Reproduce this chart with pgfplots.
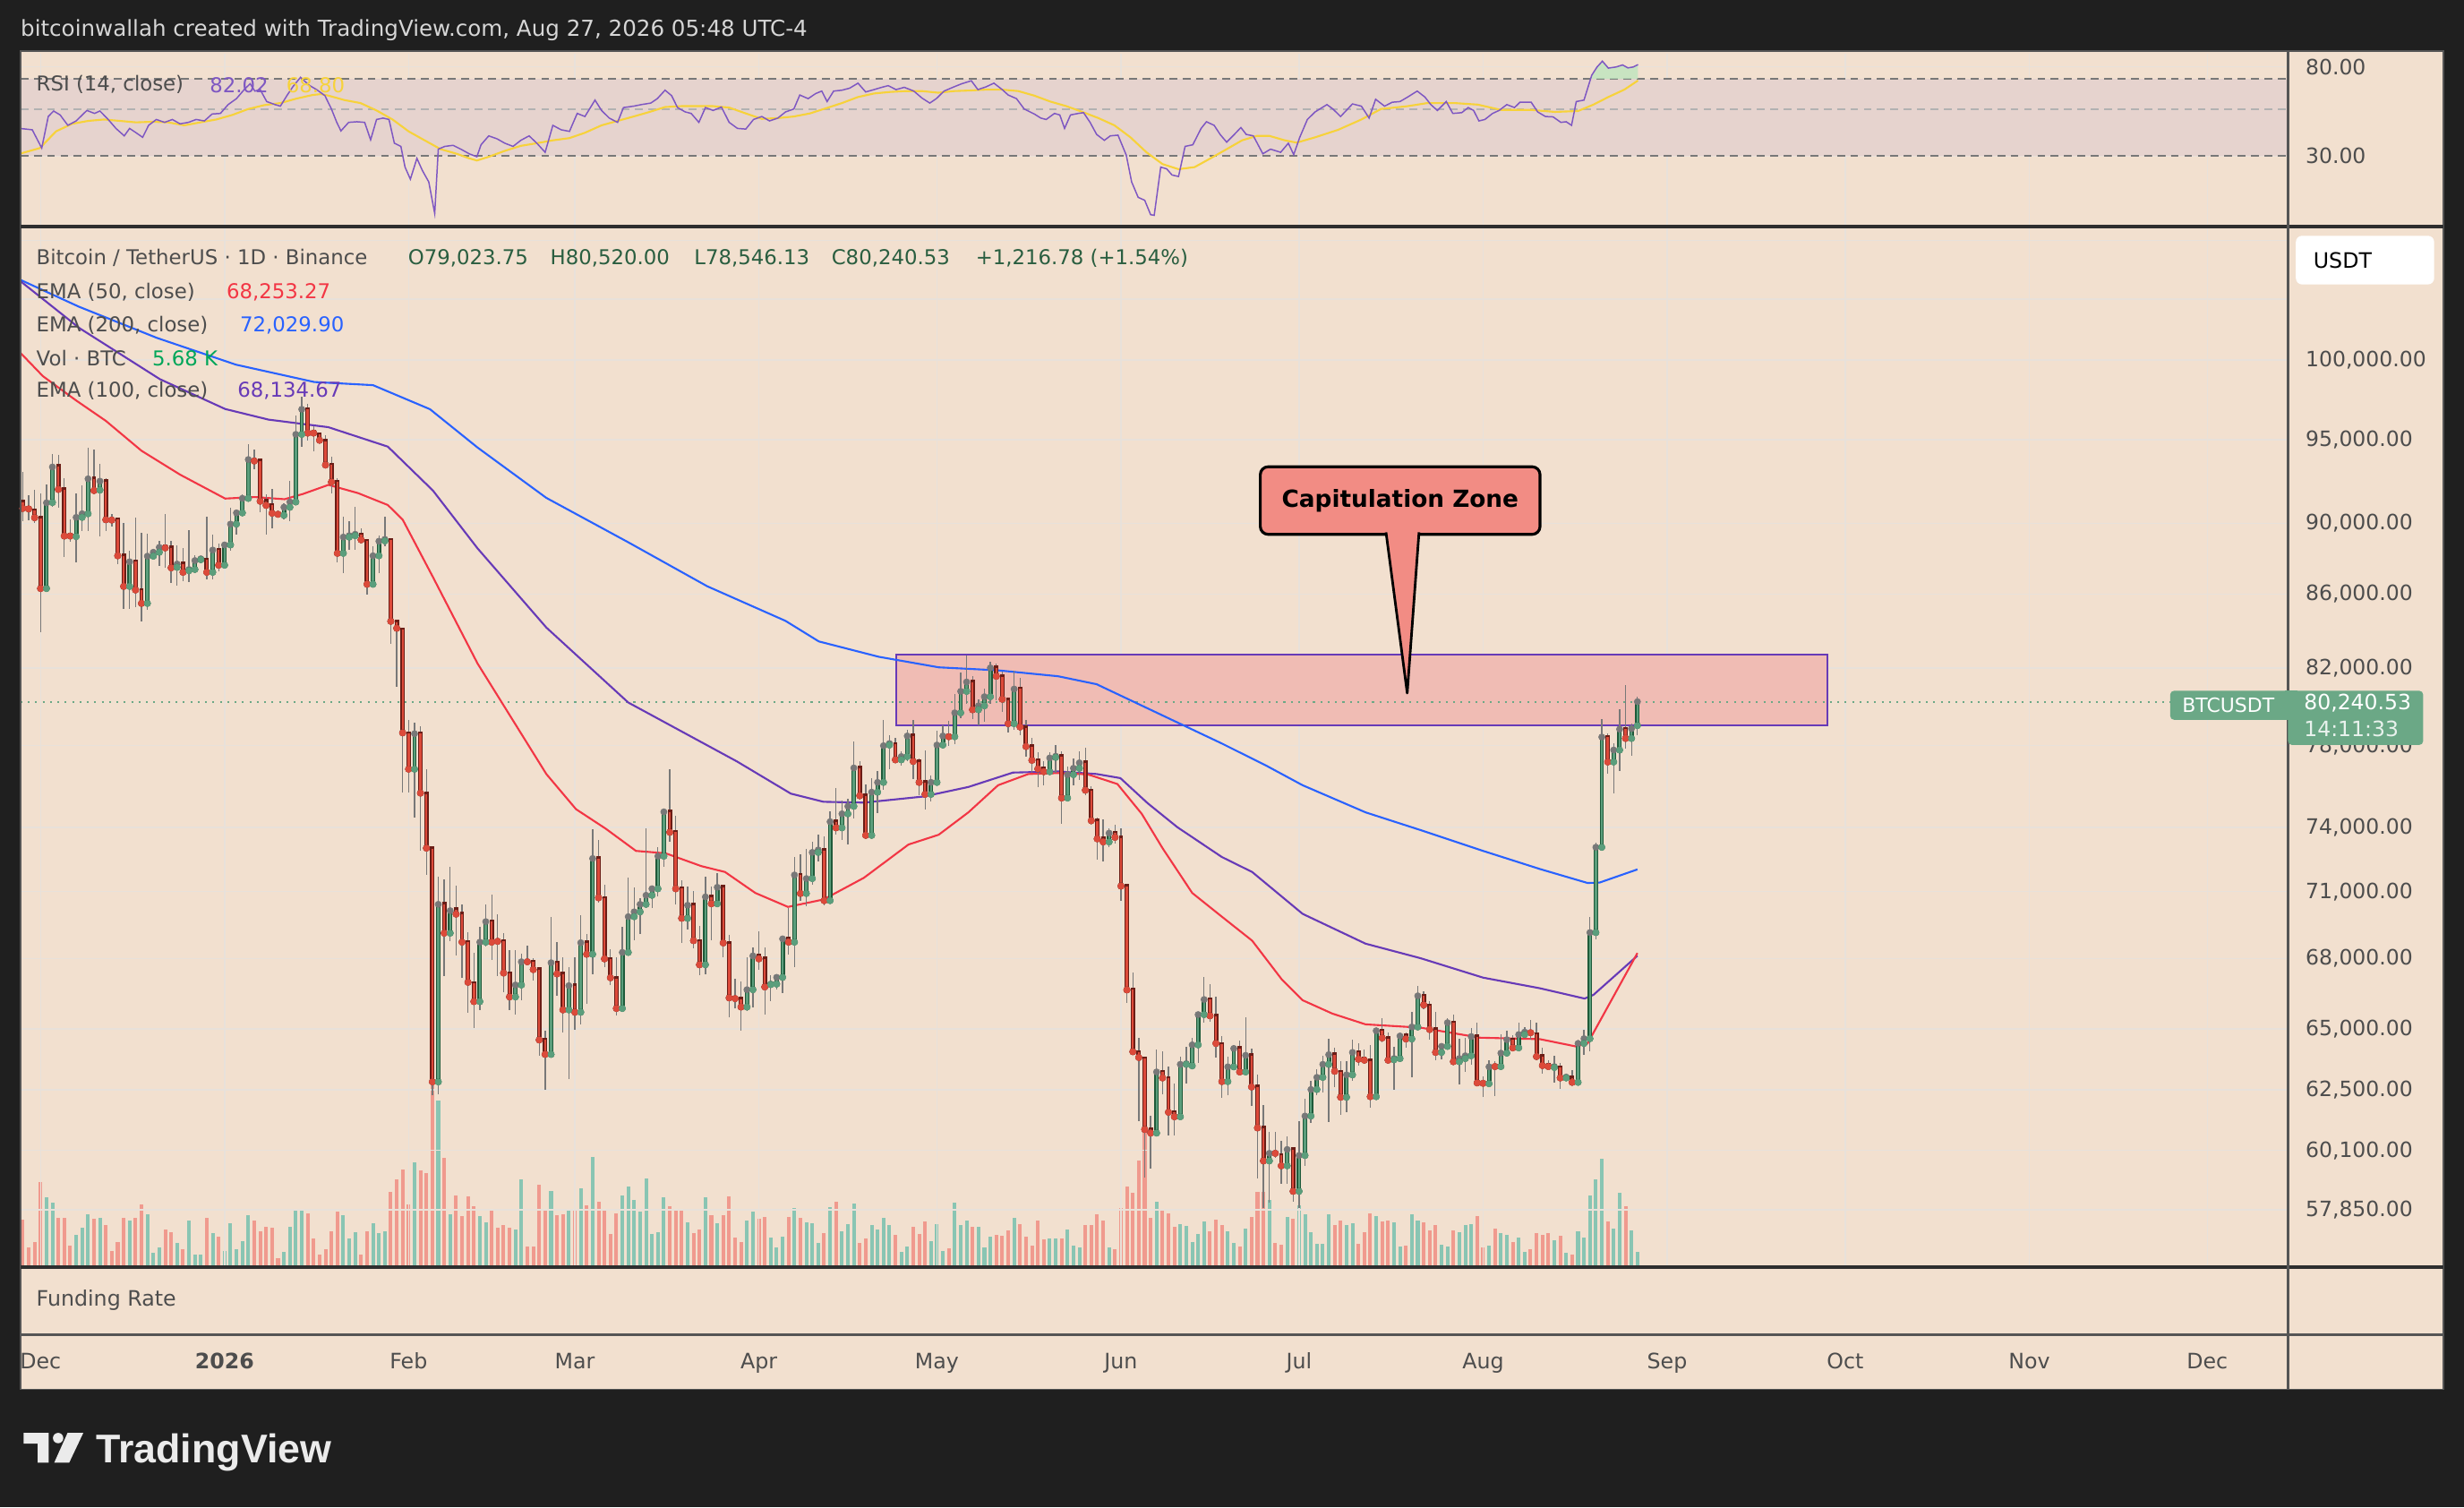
\documentclass[border=0pt]{standalone}
\usepackage{fontspec}
\setmainfont{DejaVu Sans}
\newfontfamily\libsans{Liberation Sans}
\usepackage{pgfplots}
\usepackage{pgfplotstable}
\pgfplotsset{compat=1.18}

\definecolor{bgdark}{HTML}{1F1F1F}
\definecolor{beige}{HTML}{F2E0CF}
\definecolor{gridc}{HTML}{E8E1DA}
\definecolor{lblc}{HTML}{4D4D4D}
\definecolor{sepdark}{HTML}{2E2E2E}
\definecolor{sepgray}{HTML}{555555}
\definecolor{wickc}{HTML}{787878}
\definecolor{upb}{HTML}{1F5A3A}
\definecolor{upf}{HTML}{5B9E7C}
\definecolor{dnb}{HTML}{6B1D16}
\definecolor{dnf}{HTML}{DC4A3A}
\definecolor{volr}{HTML}{F09A8E}
\definecolor{volg}{HTML}{89C5B3}
\definecolor{emared}{HTML}{F23645}
\definecolor{emablue}{HTML}{2962FF}
\definecolor{emapurple}{HTML}{673AB7}
\definecolor{rsipurple}{HTML}{7E57C2}
\definecolor{rsiyellow}{HTML}{F7D23A}
\definecolor{rsiband}{HTML}{E6D3CE}
\definecolor{capfill}{HTML}{F0BCB4}
\definecolor{tagg}{HTML}{6BA886}
\definecolor{callout}{HTML}{F28C84}
\definecolor{ohlcg}{HTML}{2A5E40}
\definecolor{headc}{HTML}{D6D6D6}

\pgfplotsset{
  isup/.style={restrict expr to domain={\thisrow{u}}{0.5:1.5}},
  isdn/.style={restrict expr to domain={\thisrow{u}}{-0.5:0.5}},
  tvbase/.style={scale only axis, width=1443pt, xmin=-3.39, xmax=378.6,
    axis line style={draw=none}, major tick length=0pt,
    xtick={0,31,62,90,121,151,182,212,243,274,304,335,365},
    xticklabel style={opacity=0, text opacity=0},
    grid style={draw=gridc, line width=0.9pt}, anchor=south west},
}

% EMA 200 (blue)
\pgfplotstableread{
d p
-3.4 105300
6.4 103500
19.6 101430
32.9 99700
46.1 98590
56 98390
65.6 96880
73.6 94520
85.2 91500
99 88920
112.3 86440
125.5 84530
131.1 83420
141.2 82600
151.3 82040
161.3 81880
171.4 81570
177.9 81150
188 79700
199 78120
206.6 77000
212.6 76040
223.2 74730
232.5 73880
243 72890
252.6 72050
260.6 71400
262.6 71420
269 72030
}\emaB
% EMA 100 (purple)
\pgfplotstableread{
d p
-3.5 105240
6.6 102060
20.1 98770
31.1 96890
38.4 96230
48.5 95760
58.5 94570
66.1 91930
73.6 88580
85.2 84170
99 80200
117.3 77220
126.4 75640
131.9 75240
138.7 75200
148.8 75500
156.3 75960
163.8 76670
171.4 76730
177.9 76600
181.9 76400
186.5 75170
191.5 74020
199 72610
204.1 71910
212.6 70000
223.2 68670
232.5 68020
243 67180
252.6 66720
260.1 66280
261.6 66440
269 68135
}\emaP
% EMA 50 (red)
\pgfplotstableread{
d p
-3.5 100500
0.4 98960
5.9 97450
11 96150
17 94320
23.5 92880
31.1 91460
36.1 91550
41.1 91420
44.2 91730
48.5 92270
53.5 91780
58.5 91080
61 90230
66.1 86950
73.6 82250
85.2 76600
90.2 74880
95.2 73950
100.3 72890
105.3 72780
111.3 72190
115.3 71910
120.4 70950
125.9 70310
131.9 70650
138.7 71640
146.2 73200
151.3 73660
156.3 74730
161.3 76040
166.4 76600
171.4 76650
176.4 76590
181.4 76110
185.5 74660
189 73030
194 70950
199 69870
204.1 68800
209.1 67100
212.6 66210
217.6 65640
223.2 65190
232.5 65050
242.5 64630
252.6 64570
258.6 64270
260.6 64390
269 68253
}\emaR

\pgfplotstableread{
d o h l c v u
-3 91260 93020 90140 90880 157 0
-2 90880 91650 90190 90850 64 0
-1 90740 91960 90050 90340 82 0
0 90310 91790 83900 86310 285 0
1 86310 92280 86180 91210 234 1
2 91230 94100 91000 93340 214 1
3 93380 94060 90920 92000 165 0
4 92000 92670 88090 89280 165 0
5 89330 90260 88940 89280 72 0
6 89250 91750 87790 90360 108 1
7 90360 92230 89540 90570 132 1
8 90570 94510 89540 92630 177 1
9 92630 94400 91900 91930 160 0
10 91960 93500 89280 92490 165 1
11 92460 92670 89540 90220 139 0
12 90220 90570 89800 90200 52 0
13 90220 90300 87680 88150 82 0
14 88150 90050 85200 86430 165 0
15 86430 88430 85200 87810 154 1
16 87810 90340 85280 86230 165 0
17 86210 89450 84520 85490 210 0
18 85490 89400 85120 88130 177 1
19 88130 88510 88090 88350 46 1
20 88350 88990 87590 88630 64 1
21 88690 90570 87500 88600 124 0
22 88600 89020 86620 87470 117 0
23 87500 88770 86470 87680 79 1
24 87680 88600 86700 87220 60 0
25 87310 89620 86680 87380 154 1
26 87380 88180 87260 87880 40 1
27 87930 88090 87860 87980 40 1
28 87930 90400 86840 87220 165 0
29 87220 89370 86840 88480 112 1
30 88480 88860 87260 87620 100 0
31 87620 88940 87590 88770 54 1
32 88770 90920 88430 89970 145 1
33 89970 90830 89370 90620 60 1
34 90620 91700 90570 91470 87 1
35 91470 94730 91440 93790 172 1
36 93790 94370 93200 93700 154 0
37 93700 93850 90660 91300 120 0
38 91300 91700 89370 91060 135 0
39 91060 92050 89710 90600 130 0
40 90600 90740 90400 90540 30 0
41 90480 91180 90220 90950 49 1
42 90950 92490 90140 91260 135 1
43 91260 96460 91230 95320 192 1
44 95320 97640 94550 96870 190 1
45 96870 97200 94950 95400 180 0
46 95450 95830 94260 95400 94 0
47 95310 95460 94820 94960 40 0
48 94900 95250 93400 93460 60 0
49 93460 93950 91780 92440 120 0
50 92440 92640 87790 88290 184 0
51 88290 90380 87170 89220 172 1
52 89220 90150 88480 89300 94 1
53 89300 90960 88480 89380 117 1
54 89350 89740 88980 89060 40 0
55 88980 89120 85950 86550 120 0
56 86550 88670 86370 88150 147 1
57 88150 89330 87170 88980 112 1
58 89000 90380 88670 89090 120 1
59 89040 89120 83300 84510 252 0
60 84460 84560 81010 84130 292 0
61 84050 84180 75700 78660 325 0
62 78610 79330 75700 76840 210 0
63 76840 79180 74500 78610 349 1
64 78610 79010 72910 75670 322 0
65 75620 76840 71790 73030 315 0
66 72990 73100 62290 62820 609 0
67 62820 71670 62300 70430 556 1
68 70430 71570 67230 69130 364 0
69 69130 72160 68770 70140 177 1
70 70180 71290 68160 69980 240 0
71 69980 70430 67170 68730 169 0
72 68730 69170 65680 66980 237 0
73 66940 68260 65050 66150 202 0
74 66150 69400 65800 68730 169 1
75 68730 70430 68540 69650 150 1
76 69650 70860 67950 68730 187 0
77 68800 70000 67230 68770 130 0
78 68770 69140 66560 67380 139 0
79 67360 68370 65800 66350 130 0
80 66350 68370 65580 66860 124 1
81 66860 68230 66190 67870 292 1
82 67900 68580 67800 67870 69 0
83 67850 68010 67070 67530 69 0
84 67530 67590 63880 64540 274 0
85 64540 64940 62480 63940 192 0
86 63940 69870 63830 67830 255 1
87 67830 68730 66400 67340 172 0
88 67330 68070 64830 65800 177 0
89 65800 67650 62930 66830 187 1
90 66830 68070 64980 65700 192 0
91 65700 69940 65170 68710 264 1
92 68710 69080 66060 68200 207 0
93 68200 73900 67310 72540 369 1
94 72540 73420 70500 70730 219 0
95 70700 71320 67650 68000 190 0
96 67980 68430 66850 67170 109 0
97 67140 68070 65560 65860 180 0
98 65860 69410 65740 68280 240 1
99 68280 71640 68270 69870 270 1
100 69870 71180 68830 70090 225 1
101 70090 70690 69100 70430 184 1
102 70430 73950 70300 70840 297 1
103 70840 71180 70250 71140 109 1
104 71140 73070 70800 72650 117 1
105 72650 74800 72170 74750 234 1
106 74750 76840 73310 73780 204 0
107 73780 74550 70430 71140 195 0
108 71140 71530 68710 69800 187 0
109 69800 71250 69300 70390 150 1
110 70390 71040 68460 68800 114 0
111 68770 69470 67270 67740 124 0
112 67740 71670 67330 70770 234 1
113 70770 71250 68830 70460 172 0
114 70460 71880 70320 71210 147 1
115 71210 71320 68050 68700 174 0
116 68670 69040 65490 66310 237 0
117 66310 67150 65860 66280 97 0
118 66250 67010 64930 65920 84 0
119 65920 68070 65740 66660 154 1
120 66660 68500 65920 68130 184 1
121 68130 69200 67500 68000 160 0
122 68000 68500 65620 66780 167 0
123 66880 67280 66170 66900 97 1
124 66900 67280 66680 67190 64 1
125 67190 69000 66530 68880 100 1
126 68880 70270 68170 68730 167 0
127 68730 72610 67650 71780 197 1
128 71780 72720 70600 70930 165 0
129 70930 73000 70340 71610 150 1
130 71610 73320 71330 72820 147 1
131 72820 73660 72400 72940 79 1
132 72920 73590 70400 70600 114 0
133 70600 74760 70460 74280 200 1
134 74280 75900 73660 73990 219 0
135 73990 75290 73420 74660 120 1
136 74660 75390 73200 75020 144 1
137 75020 78200 74410 76900 213 1
138 76900 77250 75340 75530 79 0
139 75530 76110 73600 73630 96 0
140 73630 76400 73600 75710 141 1
141 75710 76750 74700 76190 126 1
142 76190 79320 75800 78010 165 1
143 78050 78530 76860 78120 141 1
144 78080 78420 77150 77310 108 0
145 77310 77740 77030 77470 51 1
146 77470 78830 77220 78510 69 1
147 78510 79320 76330 77220 135 0
148 77190 77370 75560 76190 111 0
149 76190 77780 74850 75600 153 0
150 75600 76510 75240 76190 87 1
151 76190 78790 76160 78050 144 1
152 78050 79050 77970 78510 54 1
153 78500 79270 78000 78460 63 0
154 78460 80640 78100 79680 216 1
155 79680 81780 79430 80780 141 1
156 80780 82680 80130 81270 156 1
157 81270 81580 79350 79840 135 0
158 79840 80360 79030 80030 135 1
159 80030 80920 79200 80500 66 1
160 80500 82320 80130 82010 102 1
161 82010 82240 80320 81570 108 0
162 81540 81800 79720 80370 105 0
163 80320 80400 78660 79130 123 0
164 79130 81880 78820 80900 165 1
165 80900 81480 78560 78960 144 0
166 78920 79320 77470 77970 102 0
167 77970 78420 76640 77280 72 0
168 77280 77670 75940 76860 156 0
169 76860 77250 76030 76720 93 0
170 76720 77700 76640 77400 96 1
171 77430 78050 76650 77480 96 1
172 77460 77730 74170 75420 96 0
173 75420 76990 75240 76570 126 1
174 76570 77370 76030 76880 72 1
175 76880 77730 76300 77150 66 1
176 77150 77900 75570 75810 141 0
177 75780 76000 74150 74330 141 0
178 74310 74480 72470 73460 177 0
179 73460 74380 72400 73320 156 0
180 73320 73980 73070 73740 66 1
181 73740 74140 73240 73530 60 0
182 73500 73950 70570 71260 198 0
183 71260 71290 66110 66650 270 0
184 66650 67390 64000 64050 249 0
185 64030 64640 61260 63810 357 0
186 63770 63800 59060 60920 462 0
187 60920 61450 59400 60780 165 0
188 60780 64140 60670 63220 219 1
189 63220 64080 62320 62980 192 0
190 62960 63430 60700 61600 180 0
191 61600 62740 60700 61420 135 0
192 61420 63840 61360 63530 144 1
193 63530 64260 62740 63560 138 1
194 63470 64640 63340 64330 84 1
195 64330 65700 63590 65600 111 1
196 65600 67190 65260 66240 153 1
197 66240 66880 65300 65550 120 0
198 65540 66350 63810 64390 159 0
199 64360 64700 62160 62830 141 0
200 62830 63840 62260 63430 120 1
201 63430 64330 63400 64180 81 1
202 64180 64510 63150 63220 69 0
203 63220 65500 63160 63900 129 1
204 63900 64180 61840 62610 168 0
205 62610 63130 59020 60980 252 0
206 60970 61880 57900 59700 252 0
207 59700 60840 58100 59990 225 1
208 60020 60840 59820 59990 81 0
209 59910 60460 58820 59510 75 0
210 59510 60660 58820 60140 168 1
211 60140 60200 58150 58540 162 0
212 58540 61250 57900 59910 207 1
213 59910 62140 59510 61450 177 1
214 61450 62870 61190 62510 117 1
215 62510 63340 62260 63000 78 1
216 63000 63900 62380 63530 78 1
217 63530 64600 61210 63930 177 1
218 63930 64210 62600 63250 141 0
219 63220 63650 61480 62200 156 0
220 62200 63650 61600 63100 141 1
221 63100 64550 62860 64020 147 1
222 64020 64390 63470 63740 78 0
223 63740 64140 63590 63700 117 0
224 63670 64330 61780 62220 180 0
225 62220 65000 62190 64920 171 1
226 64920 65450 64420 64620 153 0
227 64600 64840 63590 63700 156 0
228 63720 64270 62480 63770 150 1
229 63770 64810 63700 64700 69 1
230 64700 64840 64210 64580 72 0
231 64580 65700 63000 65080 177 1
232 65080 66830 65080 66400 156 1
233 66400 66590 65830 66010 150 0
234 65980 66170 64540 64970 123 0
235 64970 65700 63690 64020 141 0
236 64020 64350 63740 64270 75 1
237 64270 65450 64210 65260 69 1
238 65260 65600 63520 63640 123 0
239 63640 64580 62700 63770 117 1
240 63770 64640 63220 63880 141 1
241 63880 65050 63520 64680 144 1
242 64680 65260 62740 62780 171 0
243 62780 63040 62200 62760 66 0
244 62740 63690 62700 63430 72 1
245 63470 63650 62230 63440 129 0
246 63440 64760 63400 63990 114 1
247 63990 64920 63960 64550 108 1
248 64550 64720 64080 64210 84 0
249 64210 65260 64080 64760 99 1
250 64760 65070 64700 64860 51 1
251 64860 65390 64540 64840 60 0
252 64760 65260 63710 63850 114 0
253 63850 64210 63160 63480 108 0
254 63480 63710 63280 63440 114 0
255 63400 63900 62800 63440 90 1
256 63400 63590 62550 62980 105 0
257 62980 63160 62920 63010 48 1
258 62980 63280 62740 62800 42 0
259 62800 64540 62740 64390 120 1
260 64390 64950 63930 64590 99 1
261 64590 69860 64080 69160 240 1
262 69160 73290 68840 73070 294 1
263 73070 79360 73000 78440 363 1
264 78440 78650 76630 77190 153 0
265 77190 78150 75660 77790 129 1
266 77790 79870 76740 78840 249 1
267 78840 81100 77850 78380 204 0
268 78380 79110 77520 78870 123 1
269 79023.75 80520 78546.13 80240.53 51 1
}\ohlc

\begin{document}
\begin{tikzpicture}
\begin{scope}[x=1pt,y=1pt]
\useasboundingbox (0,0) rectangle (1568,959);
\fill[bgdark] (0,0) rectangle (1568,959);
\fill[beige] (13,75) rectangle (1555,926.5);
\end{scope}

% ---------- volume (behind) ----------
\begin{axis}[tvbase, at={(13pt,153pt)}, height=660.5pt, ymin=0, ymax=3477, ytick=\empty]
\addplot[ycomb, volr, line width=2.3pt, isdn] table[x=d, y=v] {\ohlc};
\addplot[ycomb, volg, line width=2.3pt, isup] table[x=d, y=v] {\ohlc};
\end{axis}

% ---------- main price panel in ln(price) ----------
\begin{axis}[tvbase, at={(13pt,153pt)}, height=660.5pt, ymin=10.928813, ymax=11.597450,
  xmajorgrids, ymajorgrids,
  ytick={10.965608,11.003765,11.042922,11.082143,11.127263,11.170435,11.211820,11.264464,11.314475,11.362103,11.407565,11.461632,11.512925,11.552146,11.589887},
  yticklabels={{57,850.00},{60,100.00},{62,500.00},{65,000.00},{68,000.00},{71,000.00},{74,000.00},{78,000.00},{82,000.00},{86,000.00},{90,000.00},{95,000.00},{100,000.00},{},{}},
  yticklabel pos=right,
  yticklabel style={anchor=west, inner sep=0pt, xshift=11pt, font=\fontsize{13.4}{16}\selectfont, text=lblc}]
\addplot[draw=emapurple, line width=1.3pt, fill=capfill] coordinates {(144.1,11.277583) (301,11.277583) (301,11.322975) (144.1,11.322975)} -- cycle;
\addplot[tagg, line width=1.1pt, dash pattern=on 1.2pt off 3.5pt] coordinates {(-3.39,11.292784) (358.7,11.292784)};
\addplot[emablue, line width=1.2pt] table[x=d, y expr=ln(\thisrow{p})] {\emaB};
\addplot[emapurple, line width=1.2pt] table[x=d, y expr=ln(\thisrow{p})] {\emaP};
\addplot[emared, line width=1.2pt] table[x=d, y expr=ln(\thisrow{p})] {\emaR};
\addplot[wickc, only marks, mark=none, error bars/.cd, y dir=both, y explicit, error mark=none,
  error bar style={line width=0.75pt, wickc}]
  table[x=d, y expr=ln(\thisrow{c}), y error plus expr=ln(\thisrow{h})-ln(\thisrow{c}), y error minus expr=ln(\thisrow{c})-ln(\thisrow{l})] {\ohlc};
\addplot[dnb, only marks, mark=none, isdn, error bars/.cd, y dir=plus, y explicit, error mark=none,
  error bar style={line width=2.8pt, line cap=rect, dnb}]
  table[x=d, y expr=ln(\thisrow{c}), y error plus expr=ln(\thisrow{o})-ln(\thisrow{c})] {\ohlc};
\addplot[upb, only marks, mark=none, isup, error bars/.cd, y dir=plus, y explicit, error mark=none,
  error bar style={line width=2.8pt, line cap=rect, upb}]
  table[x=d, y expr=ln(\thisrow{o}), y error plus expr=ln(\thisrow{c})-ln(\thisrow{o})] {\ohlc};
\addplot[dnf, only marks, mark=none, isdn, error bars/.cd, y dir=plus, y explicit, error mark=none,
  error bar style={line width=1.4pt, line cap=butt, dnf}]
  table[x=d, y expr=ln(\thisrow{c}), y error plus expr=ln(\thisrow{o})-ln(\thisrow{c})] {\ohlc};
\addplot[upf, only marks, mark=none, isup, error bars/.cd, y dir=plus, y explicit, error mark=none,
  error bar style={line width=1.4pt, line cap=butt, upf}]
  table[x=d, y expr=ln(\thisrow{o}), y error plus expr=ln(\thisrow{c})-ln(\thisrow{o})] {\ohlc};
\end{axis}

% ---------- RSI panel (ln scale) ----------
\begin{axis}[tvbase, at={(13pt,815.5pt)}, height=109.5pt, ymin=2.627562, ymax=4.530446,
  y filter/.expression={ln(y)},
  xmajorgrids, ymajorgrids, ytick={3.401197,4.382027}, yticklabels={30.00,80.00},
  yticklabel pos=right,
  yticklabel style={anchor=west, inner sep=0pt, xshift=11pt, font=\fontsize{13.4}{16}\selectfont, text=lblc}]
\addplot[fill=rsiband, draw=none] coordinates {(-3.39,30) (378.6,30) (378.6,70) (-3.39,70)} -- cycle;
\addplot[color=wickc, line width=1.1pt, dash pattern=on 5pt off 3.5pt] coordinates {(-3.39,70) (378.6,70)};
\addplot[color=gray!60, line width=1.1pt, dash pattern=on 5pt off 3.5pt] coordinates {(-3.39,50) (378.6,50)};
\addplot[color=wickc, line width=1.1pt, dash pattern=on 5pt off 3.5pt] coordinates {(-3.39,30) (378.6,30)};
\addplot[fill=green!45!gray!35, draw=none, opacity=0.8] coordinates {(261.1,70) (261.3,72.9) (262.2,79.9) (263.1,85.2) (264.1,78.9) (265.4,79.9) (266.5,81.7) (267.4,79.1) (268.3,79.9) (269.1,82.02) (269.1,70)} -- cycle;
\addplot[rsiyellow, line width=1.2pt] coordinates {(-3.5,30.6) (-0.1,32.6) (2.6,39.2) (5.3,42.6) (8,44) (10.7,44.7) (13.4,44) (16.1,43.3) (18.8,43.6) (21.5,43.3) (24.2,41.9) (26.9,43.3) (29.6,44.7) (32.3,47) (35,50.2) (37.7,52.4) (40.4,53.6) (43.1,56.3) (45.8,58.6) (47.2,59.2) (48.5,58.2) (51.2,55.4) (53.9,53.6) (56.6,49.4) (59.3,44.7) (62,39.2) (64.7,35.5) (67.4,32.2) (70.1,30.6) (72.2,29.1) (73.5,28.4) (75.5,29.6) (78.2,31.6) (80.9,33.4) (83.6,34.4) (86.3,35.5) (89.1,36.4) (91.7,38.6) (94.5,41.9) (97.2,44) (99.9,46.2) (102.6,48.6) (105.2,51.3) (107.9,51.8) (110.6,51.8) (113.3,51.8) (116,51) (118.8,47.8) (121.5,45) (124.2,45.4) (126.9,46.2) (129.6,47.8) (132.3,50.6) (135,53.6) (137.7,57.3) (140.4,59.6) (143.1,60.6) (145.7,61.2) (148.5,61.2) (151.2,60.1) (153.9,61.2) (156.6,61.6) (159.3,62.2) (162,62.2) (164.7,61.2) (167.4,58.2) (170.1,54.5) (172.8,51.8) (175.5,48.6) (178.2,45.4) (180.9,41.9) (183.6,36.7) (186.3,31.1) (189,27.3) (191.7,25.8) (194.4,26.4) (197.1,29.1) (199.8,32.2) (202.4,35.5) (204.9,37.3) (207,37.3) (209.6,35.5) (211.6,34.6) (214.7,36.7) (218.6,39.9) (222.5,44.7) (225.8,50.2) (230.3,51.8) (233.6,53.6) (238.2,53.6) (242.1,52.7) (246,49.7) (251.1,49.7) (255.1,48.6) (259,49.1) (261.6,52.7) (264.1,57.3) (266.8,62.2) (269.1,68.8)};
\addplot[rsipurple, line width=0.85pt] coordinates {(-3.5,40.5) (-1.4,39.9) (0.2,32.6) (1.3,46.2) (2.2,49.1) (3.3,47) (4.6,41.9) (6,44) (7.8,49.4) (9.1,47.8) (10,49.1) (11.4,44.7) (12.7,40.5) (14.1,37.3) (15,40.5) (16.1,38.6) (17.2,36.7) (18.2,41.9) (19.5,44.7) (20.9,43.3) (22.2,44.7) (23.5,42.6) (24.9,43.3) (26.2,44.7) (27.6,44) (28.9,47.5) (30.3,47.8) (31.6,52.7) (33,56.3) (34.3,62.2) (35.3,66.4) (36.1,61.2) (37,62.2) (38.1,54.5) (39.5,52.7) (40.4,51.8) (41.5,58.2) (42.5,64.2) (43.8,71.3) (45.2,65.4) (46.5,62.2) (47.9,58.2) (49,50.2) (49.9,43.3) (50.6,39.4) (51.9,43.3) (53.3,43.6) (54.6,43.3) (55.6,35.7) (56.6,44.7) (57.7,45.4) (58.7,44.7) (59.6,34.4) (60.7,33.2) (61.4,26.4) (62.3,23.1) (63.4,29.1) (64.3,25.5) (65.4,22.4) (66.4,15.8) (67,32.2) (68.1,33.2) (69.5,33.6) (70.8,32.2) (72.2,30.6) (73.5,29.6) (74.2,33.8) (75.5,37.3) (76.9,36.1) (78.2,34.4) (79.6,33.2) (80.9,35.5) (82.3,37.3) (83.6,34.4) (85,31.1) (86.3,41.9) (87.7,39.9) (89.1,39.2) (90.4,47.8) (91.7,46.2) (93.4,55.4) (94.5,49.4) (95.8,45.4) (97.2,43.3) (98.2,51) (99.9,51.8) (101.2,52.7) (102.8,53.6) (103.9,56.3) (105.2,61.8) (106.3,58.2) (107.3,51) (108.6,48.6) (109.6,47.8) (110.9,43.3) (112,51) (113.3,49.4) (114.7,51.3) (116,43.3) (117.4,40.5) (118.8,40.2) (120.1,44.7) (121.5,46.2) (122.8,44) (124.2,45.4) (125.5,48.6) (126.9,50.2) (127.9,58.6) (129.3,56.3) (130.6,59.6) (131.6,61.2) (132.5,54.5) (133.6,61.2) (135,61.8) (136.3,63.2) (137.7,66.8) (139,60.6) (140.4,62.2) (141.7,63.8) (142.8,65) (144.1,62.2) (145.5,63.8) (147.1,61.2) (148.5,56.6) (149.8,53.6) (150.9,56.3) (152.2,61.2) (153.9,64.2) (155.2,66.4) (156.8,68.6) (157.9,62.2) (159.3,64.2) (160.6,66.8) (162,62.2) (163,58.6) (164.4,56.3) (165.7,50.2) (167.4,47.5) (168.5,45.4) (169.4,44.7) (170.8,47.8) (171.7,47) (172.5,40.5) (173.5,47) (174.8,47.8) (175.7,48.2) (176.8,43.3) (177.9,37.9) (179.2,35.5) (180.2,37.3) (181.5,37.6) (182.9,30.1) (183.8,22.4) (184.9,18.9) (186,18.3) (187,15.6) (187.6,15.5) (188.7,26.4) (189.7,25.9) (190.6,24.2) (191.7,23.8) (192.8,33.2) (194.1,33.8) (195.5,40.5) (196.4,43.6) (197.7,41.9) (198.7,37.9) (199.8,34.8) (201.1,37.9) (202.2,40.9) (203.1,37.9) (204.3,37.3) (205.9,30.6) (207.2,32.2) (208.9,31.1) (210.2,34.4) (211.1,30.3) (212.1,36.6) (213.4,44.7) (214.7,48.6) (216.7,52.7) (217.7,50.2) (219,46.2) (221,53.1) (222.5,51.8) (223.8,45.4) (224.9,55.9) (226.4,51.8) (227.7,54.1) (229,54.5) (230.3,57.3) (231.9,61.2) (233.2,57.3) (234.2,52.7) (235.3,49.4) (236.8,54.5) (237.9,47.8) (239.4,48.2) (240.5,51) (241.4,49.4) (242.3,44) (243.3,44.7) (244.6,47.8) (245.7,49.4) (247,52.7) (248.3,51) (249.2,54.1) (251.1,54.1) (252.2,48.6) (253.5,46.2) (254.8,46) (256.1,43.3) (257,43.6) (257.9,41.9) (258.7,54.5) (260,55.4) (261.3,72.9) (262.2,79.9) (263.1,85.2) (264.1,78.9) (265.4,79.9) (266.5,81.7) (267.4,79.1) (268.3,79.9) (269.1,82.02)};
\end{axis}

% ---------- funding / time axis ----------
\begin{axis}[tvbase, at={(13pt,110pt)}, height=43pt, ymin=0, ymax=1, ytick=\empty,
  xticklabels={Dec,\textbf{2026},Feb,Mar,Apr,May,Jun,Jul,Aug,Sep,Oct,Nov,Dec},
  xticklabel style={opacity=1, text opacity=1, anchor=base, yshift=-22pt, font=\fontsize{13.5}{16}\selectfont, text=lblc}]
\addplot[draw=none] coordinates {(0,0.5)};
\end{axis}

\begin{scope}[x=1pt,y=1pt]
% ---------- separators ----------
\draw[sepgray, line width=1pt] (13,75) rectangle (1555,926.5);
\draw[sepdark, line width=2.2pt] (13,815) -- (1555,815);
\draw[sepdark, line width=2pt] (13,152.8) -- (1555,152.8);
\draw[sepgray, line width=2pt] (13,109.8) -- (1555,109.8);
\draw[sepgray, line width=1.2pt] (1456,75) -- (1456,926.5);

% ---------- header ----------
\node[anchor=west, inner sep=0pt, font=\fontsize{14}{17}\selectfont, text=headc] at (13,940) {bitcoinwallah created with TradingView.com, Aug 27, 2026 05:48 UTC-4};

% ---------- legends ----------
\begin{scope}[every node/.style={anchor=west, inner sep=0pt, font=\fontsize{13}{16}\selectfont}]
\node[text=lblc] at (23,905) {RSI (14, close)};
\node[text=rsipurple] at (133.3,905) {82.02};
\node[text=rsiyellow] at (182,905) {68.80};
\node[text=lblc] at (23,794.7) {Bitcoin / TetherUS · 1D · Binance};
\node[text=ohlcg] at (259.5,794.7) {O79,023.75};
\node[text=ohlcg] at (350,794.7) {H80,520.00};
\node[text=ohlcg] at (441.6,794.7) {L78,546.13};
\node[text=ohlcg] at (529,794.7) {C80,240.53};
\node[text=ohlcg] at (620.7,794.7) {+1,216.78 (+1.54\%)};
\node[text=lblc] at (23,773.3) {EMA (50, close)};
\node[text=emared] at (144,773.3) {68,253.27};
\node[text=lblc] at (23,752) {EMA (200, close)};
\node[text=emablue] at (152.6,752) {72,029.90};
\node[text=lblc] at (23,731) {Vol · BTC};
\node[text=teal!70!green] at (96.7,731) {5.68 K};
\node[text=lblc] at (23,710.2) {EMA (100, close)};
\node[text=emapurple] at (151,710.2) {68,134.67};
\node[text=lblc, font=\fontsize{13.5}{16}\selectfont] at (23,132) {Funding Rate};
\end{scope}

% ---------- right scale boxes ----------
\fill[white, rounded corners=4pt] (1461,778) rectangle (1549,809);
\node[anchor=west, inner sep=0pt, font=\fontsize{13.5}{16}\selectfont, text=black] at (1472,793.5) {USDT};
\fill[tagg, rounded corners=2.5pt] (1381,501) rectangle (1458,519.5);
\fill[tagg, rounded corners=2.5pt] (1456,485) rectangle (1542,519.5);
\fill[tagg] (1454,501) rectangle (1462,519.5);
\node[inner sep=0pt, font=\fontsize{12.5}{15}\selectfont, text=white] at (1418,510.2) {BTCUSDT};
\node[anchor=west, inner sep=0pt, font=\fontsize{13.4}{16}\selectfont, text=white] at (1466,511.5) {80,240.53};
\node[anchor=west, inner sep=0pt, font=\fontsize{13.4}{16}\selectfont, text=white!85!tagg] at (1466,495.5) {14:11:33};

% ---------- callout ----------
\draw[fill=callout, line width=1.8pt, rounded corners=5pt] (802,619) rectangle (980,662);
\draw[fill=callout, line width=1.6pt, line join=round] (882,620.3) -- (895.5,518) -- (903,620.3);
\fill[callout] (883.8,617.6) rectangle (901.6,621.5);
\node[inner sep=0pt, font=\bfseries\fontsize{15}{18}\selectfont, text=black] at (891,640.5) {Capitulation Zone};

% ---------- logo ----------
\fill[white!92!black] (15,47.3) -- (31,47.3) -- (31,28.3) -- (24,28.3) -- (24,40.5) -- (15,40.5) -- cycle;
\fill[white!92!black] (37,44) circle (3.3);
\fill[white!92!black] (43,47.3) -- (53,47.3) -- (44,28.3) -- (34.5,28.3) -- cycle;
\node[anchor=base west, inner sep=0pt, font=\libsans\bfseries\fontsize{25.5}{30}\selectfont, text=white!92!black] at (61,28.3) {TradingView};
\end{scope}
\end{tikzpicture}
\end{document}
